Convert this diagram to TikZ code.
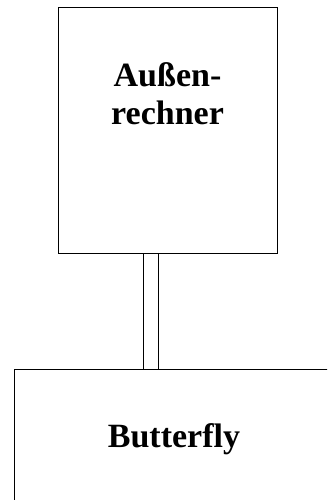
\documentclass[tikz,border=0pt]{standalone}
\usepackage{fontspec}
\setmainfont{Liberation Serif}

\begin{document}
\begin{tikzpicture}[x=1pt,y=1pt]

\tikzset{
  unit/.style={draw, line width=1pt, rectangle, inner sep=0pt},
  caption/.style={font=\fontsize{34}{38}\selectfont\bfseries, align=center, inner sep=0pt},
  bus/.style={line width=1pt}
}

% Page frame
\useasboundingbox (0,0) rectangle (327,500);
\clip (0,0) rectangle (327,500);

% Host computer (base sits on the last line)
\node[unit, minimum width=219pt, minimum height=246pt] (aussen) at (167.5,369) {};
\node[caption, anchor=base] (aussentext) at (167.5,375) {Außen-\\rechner};

% Butterfly machine (runs off the page)
\node[unit, minimum width=320pt, minimum height=134pt] (butterfly) at (174,63) {};
\node[caption, anchor=base] (butterflytext) at (174,52) {Butterfly};

% Double link between the two
\draw[bus] (aussen.south -| 143,0) -- (butterfly.north -| 143,0);
\draw[bus] (aussen.south -| 158,0) -- (butterfly.north -| 158,0);

\end{tikzpicture}
\end{document}
